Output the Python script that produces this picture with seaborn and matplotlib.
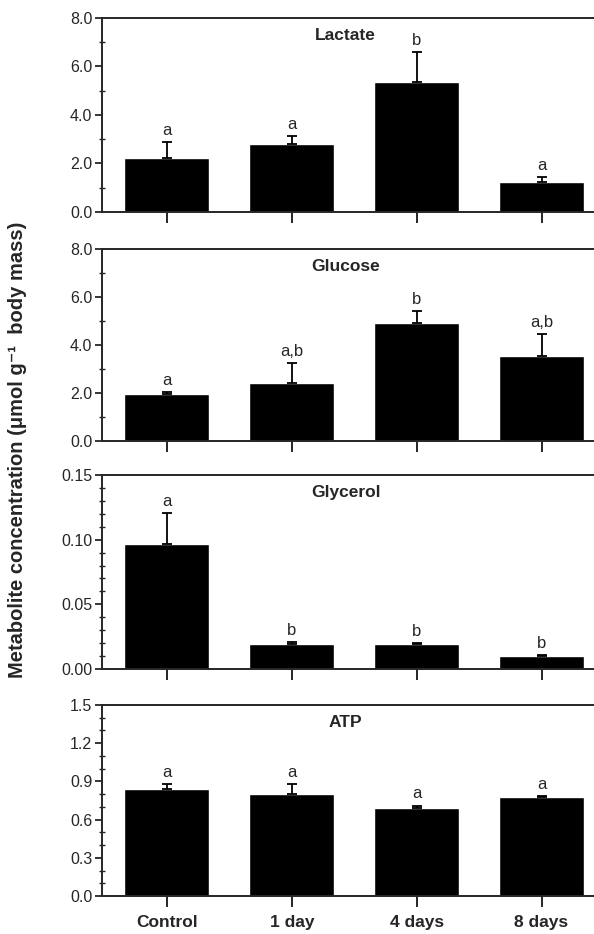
import matplotlib
matplotlib.use('Agg')
import matplotlib.pyplot as plt
import seaborn as sns
from matplotlib.ticker import MultipleLocator, FormatStrFormatter

# values (mean, upper error = SE)
groups = ['Control', '1 day', '4 days', '8 days']

lactate = [2.22, 2.80, 5.36, 1.24]
lactate_se = [0.66, 0.33, 1.24, 0.20]
lactate_sig = ['a', 'a', 'b', 'a']

glucose = [1.96, 2.42, 4.92, 3.54]
glucose_se = [0.08, 0.83, 0.50, 0.92]
glucose_sig = ['a', 'a,b', 'b', 'a,b']

glycerol = [0.0967, 0.0193, 0.0193, 0.0100]
glycerol_se = [0.024, 0.0017, 0.0008, 0.001]
glycerol_sig = ['a', 'b', 'b', 'b']

atp = [0.84, 0.80, 0.69, 0.78]
atp_se = [0.04, 0.08, 0.02, 0.005]
atp_sig = ['a', 'a', 'a', 'a']

sns.set_style('ticks')
plt.rcParams['font.family'] = ['Liberation Sans', 'DejaVu Sans']

W, H = 594, 934
fig = plt.figure(figsize=(W / 100, H / 100), dpi=100)

# (name, values, errors, letters, ymax, major, minor, fmt, top px, bottom px)
panels = [
    ('Lactate', lactate, lactate_se, lactate_sig, 8.0, 2.0, 1.0, '%.1f', 18, 212),
    ('Glucose', glucose, glucose_se, glucose_sig, 8.0, 2.0, 1.0, '%.1f', 249, 441),
    ('Glycerol', glycerol, glycerol_se, glycerol_sig, 0.15, 0.05, 0.01, '%.2f', 475, 669),
    ('ATP', atp, atp_se, atp_sig, 1.5, 0.3, 0.1, '%.1f', 705, 896),
]

left = 102 / W
for i, (name, vals, se, sig, ymax, maj, mnr, fmt, top, bot) in enumerate(panels):
    ax = fig.add_axes([left, 1 - bot / H, 1 - left, (bot - top) / H])
    sns.barplot(x=groups, y=vals, color='black', saturation=1, width=0.68,
                errorbar=None, ax=ax)
    ax.errorbar(range(len(groups)), vals, yerr=[[0] * len(se), se], fmt='none',
                ecolor='black', elinewidth=1.3, capsize=3.5, capthick=1.3)
    for j, (v, e, s) in enumerate(zip(vals, se, sig)):
        ax.annotate(s, (j, v + e), xytext=(0, 3), textcoords='offset points',
                    ha='center', va='bottom', fontsize=12)
    ax.text(1.43, ymax * 0.95, name, ha='center', va='top',
            fontsize=12.5, fontweight='bold')

    ax.set_xlim(-0.52, 3.42)
    ax.set_ylim(0, ymax)
    ax.yaxis.set_major_locator(MultipleLocator(maj))
    ax.yaxis.set_minor_locator(MultipleLocator(mnr))
    ax.yaxis.set_major_formatter(FormatStrFormatter(fmt))
    ax.set_xlabel('')
    ax.set_ylabel('')
    ax.spines['right'].set_visible(False)
    for sp in ['left', 'top', 'bottom']:
        ax.spines[sp].set_linewidth(1.4)
    ax.tick_params(axis='y', which='major', direction='out', length=5,
                   width=1.3, labelsize=11.5, pad=2)
    ax.tick_params(axis='y', which='minor', direction='inout', length=4, width=1.0)
    ax.tick_params(axis='x', which='major', direction='out', length=8, width=1.4,
                   labelsize=12.5, pad=6)
    if i < 3:
        ax.set_xticklabels([])
    else:
        for lab in ax.get_xticklabels():
            lab.set_fontweight('bold')

fig.text(0.03, 0.518, 'Metabolite concentration (\u03bcmol g\u207b\u00b9  body mass)',
         rotation=90, ha='center', va='center', fontsize=14.5, fontweight='bold',
         family=['Liberation Sans', 'DejaVu Sans'])

fig.savefig('out.png', dpi=100, facecolor='white')
